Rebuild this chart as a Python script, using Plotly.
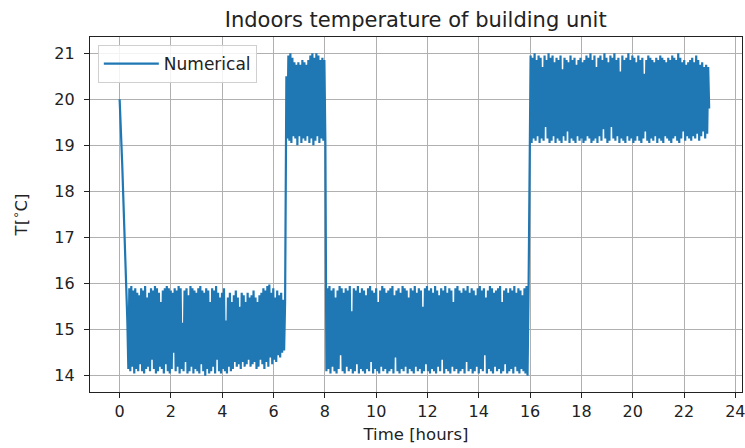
import numpy as np
import plotly.graph_objects as go

# ---- data ----
decline_t = [0.0, 0.1, 0.2, 0.3]
decline_T = [20.0, 18.6, 16.9, 15.2]

# time bounds (hours) of each controlled band
band_bounds = [(0.34, 6.45), (6.50, 8.02), (8.06, 15.94), (16.02, 22.98)]

band1_top = [
    15.90, 15.95, 15.85, 15.90, 15.80, 15.75, 15.90, 15.85, 15.95, 15.70,
    15.80, 15.90, 15.85, 15.95, 15.90, 15.80, 15.60, 15.85, 15.90, 15.95,
    15.90, 15.85, 15.80, 15.90, 15.85, 15.95, 15.90, 15.15, 15.85, 15.90,
    15.75, 15.95, 15.90, 15.85, 15.80, 15.90, 15.95, 15.85, 15.80, 15.90,
    15.85, 15.60, 15.90, 15.85, 15.95, 15.80, 15.70, 15.80, 15.90, 15.20,
    15.70, 15.80, 15.60, 15.75, 15.85, 15.70, 15.50, 15.80, 15.75, 15.60,
    15.80, 15.70, 15.75, 15.85, 15.70, 15.60, 15.75, 15.80, 15.90, 15.85,
    15.95, 15.98, 15.80, 15.90, 15.70, 15.85, 15.75, 15.80, 15.65, 15.60,
]
band1_bot = [
    14.15, 14.10, 14.20, 14.05, 14.15, 14.10, 14.25, 14.10, 14.05, 14.15,
    14.20, 14.10, 14.35, 14.15, 14.05, 14.10, 14.20, 14.15, 14.05, 14.25,
    14.10, 14.05, 14.15, 14.50, 14.10, 14.20, 14.05, 14.15, 14.10, 14.30,
    14.05, 14.10, 14.20, 14.05, 14.15, 14.10, 14.05, 14.25, 14.10, 14.00,
    14.15, 14.05, 14.10, 14.20, 14.05, 14.35, 14.10, 14.05, 14.15, 14.10,
    14.05, 14.20, 14.10, 14.15, 14.30, 14.20, 14.25, 14.15, 14.30, 14.20,
    14.25, 14.35, 14.20, 14.25, 14.30, 14.15, 14.20, 14.35, 14.25, 14.15,
    14.30, 14.20, 14.40, 14.25, 14.35, 14.30, 14.45, 14.40, 14.50, 14.55,
]

band2_top = [
    20.50, 20.95, 21.00, 20.90, 20.80, 20.75, 20.80, 20.75, 20.85, 20.80,
    20.75, 20.85, 20.95, 21.00, 20.90, 21.00, 20.95, 20.85, 20.90, 20.85,
]
band2_bot = [
    19.15, 19.10, 19.05, 19.20, 19.15, 19.00, 19.20, 19.05, 19.15, 19.10,
    19.20, 19.05, 19.15, 19.00, 19.10, 19.20, 19.05, 19.15, 19.10, 19.05,
]

band3_top = [
    15.90, 15.95, 15.85, 15.90, 15.70, 15.85, 15.95, 15.90, 15.80, 15.90,
    15.85, 15.95, 15.40, 15.90, 15.85, 15.95, 15.80, 15.90, 15.85, 15.75,
    15.90, 15.95, 15.85, 15.80, 15.90, 15.60, 15.85, 15.95, 15.90, 15.80,
    15.85, 15.90, 15.95, 15.75, 15.85, 15.90, 15.80, 15.95, 15.90, 15.85,
    15.70, 15.90, 15.85, 15.95, 15.80, 15.90, 15.85, 15.50, 15.90, 15.95,
    15.85, 15.90, 15.80, 15.95, 15.85, 15.75, 15.90, 15.85, 15.95, 15.80,
    15.90, 15.85, 15.60, 15.90, 15.95, 15.85, 15.80, 15.90, 15.85, 15.95,
    15.80, 15.90, 15.85, 15.75, 15.90, 15.95, 15.85, 15.90, 15.70, 15.85,
    15.95, 15.90, 15.80, 15.85, 15.90, 15.95, 15.60, 15.85, 15.90, 15.80,
    15.90, 15.85, 15.95, 15.80, 15.90, 15.85, 15.75, 15.90, 15.95, 15.85,
]
band3_bot = [
    14.10, 14.15, 14.05, 14.20, 14.10, 14.05, 14.15, 14.45, 14.10, 14.05,
    14.20, 14.10, 14.15, 14.05, 14.10, 14.25, 14.05, 14.15, 14.10, 14.05,
    14.15, 14.10, 14.30, 14.05, 14.15, 14.10, 14.05, 14.20, 14.10, 14.15,
    14.05, 14.10, 14.15, 14.05, 14.40, 14.10, 14.05, 14.15, 14.10, 14.20,
    14.05, 14.15, 14.10, 14.05, 14.20, 14.10, 14.15, 14.05, 14.10, 14.25,
    14.10, 14.05, 14.15, 14.10, 14.05, 14.20, 14.10, 14.35, 14.05, 14.15,
    14.10, 14.05, 14.20, 14.10, 14.15, 14.05, 14.10, 14.15, 14.05, 14.30,
    14.10, 14.15, 14.05, 14.10, 14.20, 14.05, 14.15, 14.10, 14.45, 14.05,
    14.15, 14.10, 14.05, 14.20, 14.10, 14.15, 14.05, 14.10, 14.25, 14.05,
    14.10, 14.15, 14.05, 14.20, 14.10, 14.05, 14.15, 14.10, 14.05, 14.00,
]

band4_top = [
    20.95, 20.90, 21.00, 20.85, 20.95, 20.90, 20.70, 20.95, 20.85, 21.00,
    20.90, 20.95, 20.80, 20.90, 20.85, 20.95, 20.65, 20.90, 20.85, 20.80,
    20.95, 20.85, 20.90, 20.75, 20.85, 20.90, 20.80, 20.85, 20.95, 20.90,
    21.00, 20.85, 20.95, 20.70, 20.90, 20.95, 20.85, 21.00, 20.90, 20.80,
    20.95, 20.90, 21.00, 20.85, 20.90, 20.60, 20.95, 20.85, 20.90, 21.00,
    20.85, 20.95, 20.90, 20.80, 20.95, 20.85, 20.90, 20.55, 20.85, 20.95,
    20.90, 20.85, 20.80, 20.90, 20.85, 20.95, 20.90, 20.85, 20.80, 20.90,
    20.85, 20.95, 20.90, 20.85, 21.00, 20.90, 20.80, 20.85, 20.75, 20.80,
    20.85, 20.90, 20.80, 20.95, 20.85, 20.75, 20.80, 20.70, 20.75, 20.70,
]
band4_bot = [
    19.05, 19.15, 19.10, 19.20, 19.05, 19.15, 19.10, 19.40, 19.15, 19.05,
    19.10, 19.20, 19.05, 19.15, 19.10, 19.05, 19.20, 19.10, 19.30, 19.05,
    19.15, 19.10, 19.05, 19.20, 19.10, 19.15, 19.05, 19.10, 19.20, 19.15,
    19.05, 19.10, 19.15, 19.05, 19.20, 19.10, 19.35, 19.15, 19.05, 19.10,
    19.40, 19.15, 19.10, 19.20, 19.05, 19.15, 19.10, 19.05, 19.20, 19.10,
    19.15, 19.05, 19.10, 19.20, 19.10, 19.05, 19.15, 19.30, 19.10, 19.05,
    19.15, 19.10, 19.20, 19.05, 19.15, 19.10, 19.05, 19.20, 19.15, 19.10,
    19.05, 19.15, 19.20, 19.10, 19.05, 19.15, 19.30, 19.10, 19.20, 19.15,
    19.10, 19.20, 19.15, 19.25, 19.10, 19.20, 19.30, 19.15, 19.25, 19.80,
]

x_ticks = list(range(0, 25, 2))
y_ticks = list(range(14, 22))

# ---- assemble the series ----
bands = [(band1_bot, band1_top), (band2_top, band2_bot),
         (band3_bot, band3_top), (band4_top, band4_bot)]
t_all = list(decline_t)
T_all = list(decline_T)
for (first, second), (t0, t1) in zip(bands, band_bounds):
    vals = []
    for a, b in zip(first, second):
        vals.extend([a, b])
    t_all.extend(np.linspace(t0, t1, len(vals)).tolist())
    T_all.extend(vals)

FONT = "DejaVu Sans"
TXT = "#222222"
fig = go.Figure()
fig.add_trace(go.Scatter(
    x=t_all, y=T_all, mode="lines", name="Numerical",
    line=dict(color="#1f77b4", width=2.2, simplify=False),
))

axis_common = dict(
    showline=True, linecolor=TXT, linewidth=1.2, mirror=True,
    ticks="outside", ticklen=5, tickwidth=1.2, tickcolor=TXT,
    showgrid=True, gridcolor="#b0b0b0", gridwidth=1.1, zeroline=False,
    tickfont=dict(family=FONT, size=16, color=TXT),
    ticklabeloverflow="allow",
)
fig.update_xaxes(
    range=[-1.155, 24.26], tickvals=x_ticks, ticktext=[str(v) for v in x_ticks],
    title=dict(text="Time [hours]", font=dict(family=FONT, size=16.5, color=TXT), standoff=8),
    **axis_common,
)
fig.update_yaxes(
    range=[13.65, 21.35], tickvals=y_ticks, ticktext=[str(v) for v in y_ticks],
    ticklabelstandoff=6,
    title=dict(text="T[<sup>∘</sup>C]", font=dict(family=FONT, size=16.5, color=TXT), standoff=22),
    **axis_common,
)
fig.update_layout(
    width=745, height=448,
    margin=dict(l=90, r=3, t=37, b=56, autoexpand=False),
    paper_bgcolor="white", plot_bgcolor="white",
    title=dict(text="Indoors temperature of building unit", x=0.558, xanchor="center",
               y=0.972, yanchor="top", font=dict(family=FONT, size=21, color=TXT)),
    legend=dict(x=0.012, y=0.977, xanchor="left", yanchor="top",
                bgcolor="rgba(255,255,255,0.85)", bordercolor="#d0d0d0", borderwidth=1,
                font=dict(family=FONT, size=17, color=TXT), itemwidth=55),
    showlegend=True,
)
fig.write_html("out.html", config={"displayModeBar": False},
               post_script="document.body.style.margin='0';")
